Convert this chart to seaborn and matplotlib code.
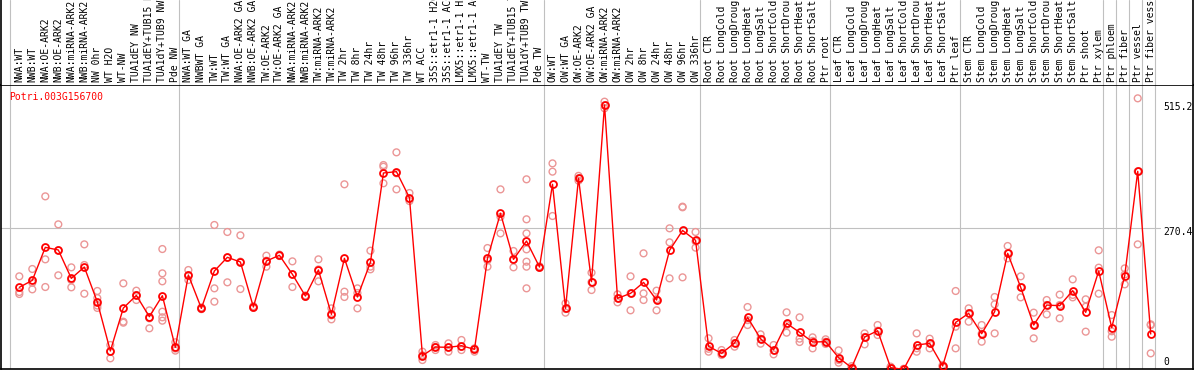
import pandas as pd
import matplotlib
matplotlib.use("Agg")
import matplotlib.pyplot as plt
import matplotlib.transforms as mtransforms
import seaborn as sns

# 基因名
gene = "Potri.003G156700"

# 样本名称
samples = [
    "NWA:WT", "NWB:WT", "NWA:OE-ARK2", "NWB:OE-ARK2", "NWA:miRNA-ARK2", "NWB:miRNA-ARK2",
    "NW 0hr", "WT H2O", "WT-NW", "TUA1dEY NW", "TUA1dEY+TUB15 NW", "TUA1dY+TUB9 NW", "Pde NW",
    "NWA:WT GA", "NWBWT GA", "TW:WT", "TW:WT GA", "NWA:OE-ARK2 GA", "NWB:OE-ARK2 GA",
    "TW:OE-ARK2", "TW:OE-ARK2 GA", "NWA:miRNA-ARK2", "NWB:miRNA-ARK2", "TW:miRNA-ARK2",
    "TW:miRNA-ARK2", "TW 2hr", "TW 8hr", "TW 24hr", "TW 48hr", "TW 96hr", "TW 336hr",
    "WT ACC", "35S::etr1-1 H2O", "35S::etr1-1 ACC", "LMX5::etr1-1 H2O", "LMX5::etr1-1 ACC",
    "WT-TW", "TUA1dEY TW", "TUA1dEY+TUB15 TW", "TUA1dY+TUB9 TW", "Pde TW",
    "OW:WT", "OW:WT GA", "OW:OE-ARK2", "OW:OE-ARK2 GA", "OW:miRNA-ARK2", "OW:miRNA-ARK2",
    "OW 2hr", "OW 8hr", "OW 24hr", "OW 48hr", "OW 96hr", "OW 336hr",
    "Root CTR", "Root LongCold", "Root LongDrought", "Root LongHeat", "Root LongSalt",
    "Root ShortCold", "Root ShortDrought", "Root ShortHeat", "Root ShortSalt", "Ptr root",
    "Leaf CTR", "Leaf LongCold", "Leaf LongDrought", "Leaf LongHeat", "Leaf LongSalt",
    "Leaf ShortCold", "Leaf ShortDrought", "Leaf ShortHeat", "Leaf ShortSalt", "Ptr leaf",
    "Stem CTR", "Stem LongCold", "Stem LongDrought", "Stem LongHeat", "Stem LongSalt",
    "Stem ShortCold", "Stem ShortDrought", "Stem ShortHeat", "Stem ShortSalt", "Ptr shoot",
    "Ptr xylem", "Ptr phloem", "Ptr fiber", "Ptr vessel", "Ptr fiber vessel",
]

# 均值
means = [
    159.3, 172.4, 234.6, 229.6, 176.2, 197.5, 131.7, 39.4, 120.3, 144.1, 104.0, 143.5, 46.3,
    182.5, 119.7, 190.1, 215.8, 207.0, 122.2, 208.9, 219.6, 183.8, 142.9, 192.0, 108.4,
    213.9, 141.1, 206.4, 374.6, 377.1, 328.1, 30.6, 46.9, 46.3, 49.4, 42.5, 213.9, 298.8,
    212.0, 246.5, 197.5,
    353.3, 119.7, 364.5, 170.0, 502.6, 138.5, 147.9, 168.6, 135.4, 228.9, 266.4, 247.8,
    48.2, 35.0, 54.4, 102.7, 62.3, 41.6, 91.5, 74.5, 56.3, 56.9,
    26.8, 8.0, 65.7, 77.6, 8.0, 4.9, 50.7, 53.8, 11.1, 93.3,
    110.3, 72.0, 113.5, 223.3, 159.3, 88.3, 125.9, 124.7, 153.0, 112.2, 190.1,
    83.3, 181.2, 377.7, 71.4,
]

# 重复样本
replicates = [
    [180.0, 150.5, 146.7], [193.8, 167.9, 155.5], [330.6, 212.0, 159.9], [277.9, 229.0, 181.9],
    [196.9, 173.1, 159.3], [240.2, 201.3, 147.3], [152.4, 139.0, 125.0, 120.5], [50.7, 38.1, 25.6],
    [166.8, 94.6, 92.7], [153.0, 144.5, 135.4], [115.9, 100.9, 82.1],
    [231.4, 185.6, 170.6, 113.4, 102.8, 96.5], [55.8, 44.0, 40.1],
    [191.9, 182.0, 173.1], [121.5, 119.0, 118.2], [276.7, 157.4, 132.3], [263.5, 215.2, 168.7],
    [257.2, 207.7, 156.1], [123.8, 122.0, 120.6], [218.9, 209.5, 198.2], [221.0, 219.6, 218.3],
    [208.2, 183.5, 159.9], [144.0, 142.9, 141.5], [212.0, 193.0, 170.6], [119.7, 106.5, 99.0],
    [353.3, 151.1, 141.1], [157.4, 148.6, 119.7], [228.3, 198.2, 193.2], [389.6, 386.4, 355.2],
    [413.5, 374.0, 343.8], [336.9, 326.0, 321.8], [38.1, 31.3, 22.4], [50.7, 47.2, 41.2],
    [53.8, 46.0, 38.1], [60.1, 47.5, 41.2], [44.4, 42.5, 38.1], [233.3, 210.0, 198.2],
    [343.8, 292.0, 260.9], [227.7, 211.0, 197.0],
    [362.7, 287.4, 260.9, 230.8, 207.6, 198.2, 157.4], [199.0, 197.5, 196.0],
    [392.7, 377.1, 293.6], [129.2, 118.5, 111.6], [369.2, 364.5, 360.1], [186.9, 169.0, 154.2],
    [508.9, 502.0, 496.4], [146.1, 138.5, 131.0], [180.0, 147.9, 116.0], [223.3, 147.9, 135.4],
    [153.0, 137.0, 116.0], [270.4, 244.0, 176.2], [311.2, 310.0, 178.1], [263.5, 246.0, 234.0],
    [63.3, 43.5, 38.1], [41.2, 35.0, 31.9], [60.1, 54.4, 47.5], [122.2, 97.5, 88.3],
    [70.8, 62.3, 53.2], [50.7, 40.5, 33.1], [112.2, 88.5, 73.9], [102.8, 62.6, 56.3],
    [65.1, 58.5, 44.4], [61.4, 56.9, 52.7],
    [40.6, 22.4, 17.4], [11.0, 8.0, 5.5], [72.6, 65.7, 51.9], [88.3, 77.6, 69.5],
    [10.0, 8.0, 6.0], [6.0, 4.9, 4.0], [72.6, 44.5, 38.1], [62.6, 53.8, 44.4],
    [13.0, 11.1, 9.5], [152.4, 85.2, 44.4],
    [119.7, 110.3, 94.6], [88.3, 72.0, 56.9], [141.1, 127.2, 72.6], [237.1, 223.3, 213.9],
    [180.0, 159.3, 140.4], [111.6, 88.3, 63.2], [135.4, 126.0, 108.4], [145.5, 126.0, 100.9],
    [174.3, 145.0, 140.4], [136.7, 122.8, 75.8], [229.0, 196.3, 147.3],
    [107.1, 76.5, 66.3], [195.0, 183.5, 164.9], [515.2, 377.7, 240.2], [89.6, 88.0, 35.0],
]

# 分组边界（之前的样本数）
group_breaks = [0, 13, 41, 53, 63, 73, 84, 85, 86, 87, 88]

# 右侧刻度
tick_values = [0, 270.4, 515.2]
tick_labels = ["0", "270.4", "515.2"]

mean_df = pd.DataFrame({"idx": range(len(samples)), "expr": means})
rep_df = pd.DataFrame(
    [(i, v) for i, vals in enumerate(replicates) for v in vals], columns=["idx", "expr"]
)

sns.set_theme(style="white")
plt.rcParams["font.family"] = ["DejaVu Sans Mono"]

W, H = 1194, 370
fig = plt.figure(figsize=(W / 100, H / 100), dpi=100)
ax = fig.add_axes([1 / W, 1 / H, 1192 / W, 284 / H])
lab_ax = fig.add_axes([1 / W, 285 / H, 1192 / W, 85 / H])

xlim = (-1.407, 90.25)
ax.set_xlim(*xlim)
lab_ax.set_xlim(*xlim)
ax.set_ylim(5.5, 540.3)
lab_ax.set_ylim(0, 1)

grid_color = "#C0C0C0"
for b in group_breaks:
    ax.axvline(b - 0.69, color=grid_color, lw=0.8, zorder=0)
    lab_ax.axvline(b - 0.69, color=grid_color, lw=0.8, zorder=0)
ax.axhline(270.4, xmax=0.972, color=grid_color, lw=0.8, zorder=0)

# 重复点
sns.scatterplot(
    data=rep_df, x="idx", y="expr", ax=ax, marker="o", s=24,
    color="#EB9696", facecolor="none", edgecolor="#EB9696", linewidth=1.0, zorder=2,
)

# 均值折线
sns.lineplot(
    data=mean_df, x="idx", y="expr", ax=ax, color="red", lw=1.0, errorbar=None,
    marker="o", markersize=5, markerfacecolor="none", markeredgecolor="red",
    markeredgewidth=1.3, zorder=3,
)

ax.set_xticks([])
ax.set_yticks([])
ax.set_xlabel("")
ax.set_ylabel("")
for s in ax.spines.values():
    s.set_color("black")
    s.set_linewidth(1.2)

lab_ax.set_xticks([])
lab_ax.set_yticks([])
lab_ax.spines["top"].set_visible(False)
lab_ax.spines["bottom"].set_visible(False)
for side in ["left", "right"]:
    lab_ax.spines[side].set_color("black")
    lab_ax.spines[side].set_linewidth(1.2)

# 样本标签
lab_trans = mtransforms.blended_transform_factory(lab_ax.transData, lab_ax.transAxes)
for i, name in enumerate(samples):
    lab_ax.text(i, 3 / 85, name, rotation=90, ha="center", va="bottom",
                fontsize=7, color="black", transform=lab_trans)

# 标题
ax.text(0.007, 0.958, gene, transform=ax.transAxes, ha="left", va="center",
        fontsize=7, color="red")

# 右侧刻度标签
tick_trans = mtransforms.blended_transform_factory(ax.transAxes, ax.transData)
tick_dy = [10, -3.4, -8.7]
for val, lab, dy in zip(tick_values, tick_labels, tick_dy):
    t = mtransforms.offset_copy(tick_trans, fig=fig, y=dy, units="dots")
    ax.text(1 - 30 / 1192, val, lab, transform=t, ha="left", va="center",
            fontsize=7, color="black", clip_on=False)

fig.savefig("out.png", dpi=100)
